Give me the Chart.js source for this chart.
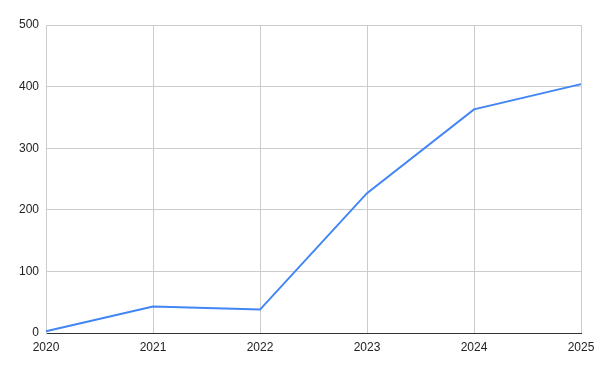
<!DOCTYPE html>
<html><head><meta charset="utf-8">
<script src="https://cdn.jsdelivr.net/npm/chart.js@4"></script>
<style>html,body{margin:0;padding:0;background:#fff}#w{width:600px;height:371px}</style>
</head><body><div id="w"><canvas id="c" width="600" height="371"></canvas></div>
<script>
const years = ['2020','2021','2022','2023','2024','2025'];
const values = [3, 43, 38, 227, 363, 404];
const yTicks = [0, 100, 200, 300, 400, 500];

const font = {family: 'Liberation Sans, Arial, sans-serif', size: 12};
new Chart(document.getElementById('c'), {
  type: 'line',
  data: {labels: years, datasets: [{data: values, borderColor: '#4285F4', borderWidth: 2, pointRadius: 0, tension: 0, fill: false}]},
  options: {
    responsive: false, animation: false,
    plugins: {legend: {display: false}, tooltip: {enabled: false}},
    layout: {padding: {left: 0, right: 19, top: 25, bottom: 0}},
    scales: {
      x: {
        type: 'category', offset: false,
        grid: {color: '#cccccc', drawTicks: false, lineWidth: 1},
        border: {color: '#333333', width: 1},
        ticks: {color: '#222222', font, padding: 7, maxRotation: 0, autoSkip: false},
        afterFit: s => { s.height = 38; s.paddingRight = 0; s.paddingLeft = 0; }
      },
      y: {
        min: 0, max: 500,
        afterBuildTicks: s => { s.ticks = yTicks.map(v => ({value: v})); },
        grid: {color: '#cccccc', drawTicks: false, lineWidth: 1},
        border: {color: '#cccccc', width: 1},
        ticks: {color: '#222222', font, padding: 7},
        afterFit: s => { s.width = 46; s.paddingTop = 0; s.paddingBottom = 0; }
      }
    }
  }
});
</script></body></html>
